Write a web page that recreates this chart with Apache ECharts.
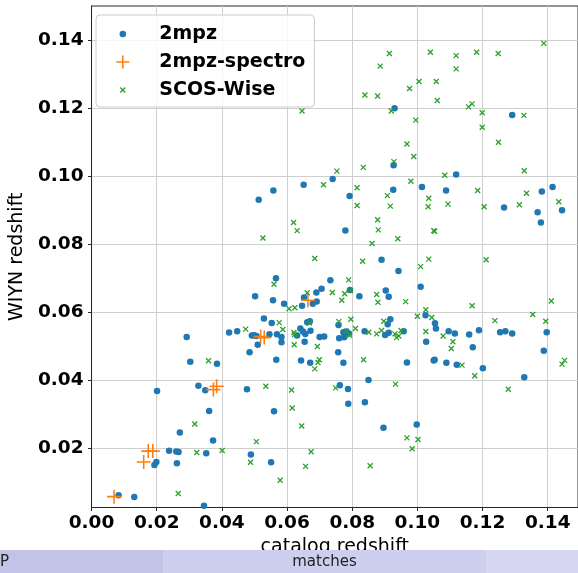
<!DOCTYPE html>
<html>
<head>
<meta charset="utf-8">
<script src="https://cdn.jsdelivr.net/npm/echarts@6/dist/echarts.min.js"></script>
<style>
  html, body { margin: 0; padding: 0; background: #fff; }
  #chart { width: 578px; height: 573px; }
</style>
</head>
<body>
<div id="chart"></div>
<script>
// tick positions
const xTicks = [0, 0.02, 0.04, 0.06, 0.08, 0.10, 0.12, 0.14];
const yTicks = [0.02, 0.04, 0.06, 0.08, 0.10, 0.12, 0.14];

// [catalog redshift, WIYN redshift]
const mpzPoints = [
  [0.0292,0.0527],[0.0422,0.0540],[0.0447,0.0544],[0.0303,0.0454],[0.0385,0.0448],[0.0201,0.0368],
  [0.0328,0.0383],[0.0349,0.0370],[0.0361,0.0309],[0.0271,0.0246],[0.0373,0.0222],[0.0238,0.0192],
  [0.0260,0.0190],[0.0267,0.0188],[0.0352,0.0185],[0.0199,0.0159],[0.0193,0.0150],[0.0262,0.0155],
  [0.0083,0.0061],[0.0131,0.0056],[0.0345,0.0030],
  [0.0890,0.0754],[0.0942,0.0721],[0.0566,0.0700],[0.0733,0.0694],[0.0706,0.0669],[0.0690,0.0658],
  [0.0793,0.0665],[0.0903,0.0664],[0.0912,0.0645],[0.0822,0.0647],[0.0502,0.0647],[0.0557,0.0635],
  [0.0591,0.0625],[0.0652,0.0643],[0.0646,0.0619],[0.0679,0.0625],[0.0691,0.0631],
  [0.0529,0.0581],[0.0553,0.0568],[0.0492,0.0531],[0.0499,0.0532],[0.0506,0.0530],[0.0510,0.0504],
  [0.0546,0.0535],[0.0569,0.0535],[0.0583,0.0527],[0.0583,0.0511],[0.0485,0.0482],[0.0567,0.0460],
  [0.0641,0.0552],[0.0649,0.0543],[0.0656,0.0536],[0.0631,0.0531],[0.0662,0.0570],[0.0670,0.0573],
  [0.0672,0.0545],[0.0654,0.0513],[0.0700,0.0527],[0.0714,0.0528],[0.0643,0.0458],[0.0671,0.0451],
  [0.0758,0.0562],[0.0760,0.0523],[0.0773,0.0541],[0.0782,0.0543],[0.0775,0.0526],[0.0790,0.0537],
  [0.0757,0.0482],[0.0773,0.0451],[0.0838,0.0544],[0.0850,0.0400],
  [0.0917,0.0579],[0.0909,0.0564],[0.0901,0.0533],[0.0912,0.0539],[0.0958,0.0544],
  [0.0477,0.0373],[0.0762,0.0385],[0.0787,0.0374],[0.0788,0.0330],[0.0839,0.0335],[0.0560,0.0308],
  [0.0896,0.0260],[0.0489,0.0181],[0.0551,0.0158],
  [0.0930,0.1200],[0.0927,0.1032],[0.0740,0.0992],[0.0651,0.0975],[0.0558,0.0958],[0.0513,0.0931],
  [0.0792,0.0942],[0.0926,0.0960],[0.0779,0.0840],
  [0.1291,0.1180],[0.1119,0.1005],[0.1014,0.0968],[0.1088,0.0958],[0.1415,0.0968],[0.1382,0.0955],
  [0.1266,0.0908],[0.1369,0.0894],[0.1444,0.0900],[0.1379,0.0864],
  [0.1010,0.0675],[0.1025,0.0591],[0.1054,0.0567],[0.1057,0.0552],[0.1096,0.0544],[0.1115,0.0537],
  [0.1027,0.0513],[0.1159,0.0534],[0.1189,0.0547],[0.1170,0.0497],[0.0968,0.0452],[0.1050,0.0458],
  [0.1053,0.0460],[0.1089,0.0451],[0.1121,0.0445],[0.1201,0.0435],[0.1254,0.0541],[0.1270,0.0544],
  [0.1291,0.0537],[0.1397,0.0541],[0.1388,0.0486],[0.1328,0.0408],[0.0998,0.0269]
];

const spectroPoints = [
  [0.0069,0.0057],[0.0160,0.0159],[0.0174,0.0191],[0.0188,0.0191],[0.0374,0.0372],
  [0.0384,0.0382],[0.0519,0.0528],[0.0530,0.0525],[0.0664,0.0635]
];

const scosPoints = [
  [0.0359,0.0457],[0.0317,0.0271],[0.0323,0.0187],[0.0401,0.0193],[0.0266,0.0066],
  [0.0685,0.0758],[0.0832,0.0750],[0.0560,0.0682],[0.0789,0.0695],[0.0662,0.0657],[0.0739,0.0658],
  [0.0777,0.0654],[0.0795,0.0664],[0.0768,0.0635],[0.0875,0.0652],[0.0879,0.0629],[0.0606,0.0610],
  [0.0624,0.0613],[0.0473,0.0550],[0.0576,0.0569],[0.0587,0.0549],[0.0621,0.0540],[0.0623,0.0534],
  [0.0622,0.0504],[0.0669,0.0568],[0.0693,0.0499],[0.0699,0.0460],[0.0695,0.0452],[0.0685,0.0433],
  [0.0759,0.0572],[0.0796,0.0579],[0.0782,0.0544],[0.0792,0.0532],[0.0810,0.0552],[0.0851,0.0541],
  [0.0835,0.0460],[0.0875,0.0536],[0.0890,0.0546],[0.0897,0.0573],[0.0931,0.0536],[0.0936,0.0525],
  [0.0943,0.0530],[0.0950,0.0546],[0.0535,0.0382],[0.0614,0.0371],[0.0616,0.0318],[0.0645,0.0265],
  [0.0749,0.0377],[0.0933,0.0388],[0.0506,0.0219],[0.0488,0.0158],[0.0674,0.0189],[0.0657,0.0146],
  [0.0579,0.0105],[0.0855,0.0148],
  [0.0914,0.1361],[0.0886,0.1324],[0.0839,0.1239],[0.0878,0.1236],[0.0646,0.1192],[0.0920,0.1192],
  [0.0928,0.1043],[0.0834,0.1026],[0.0753,0.1015],[0.0712,0.0975],[0.0815,0.0966],[0.0908,0.0943],
  [0.0815,0.0914],[0.0917,0.0912],[0.0620,0.0864],[0.0631,0.0840],[0.0878,0.0872],[0.0880,0.0842],
  [0.0940,0.0816],[0.0861,0.0802],[0.0526,0.0818],
  [0.1388,0.1391],[0.1040,0.1365],[0.1119,0.1355],[0.1182,0.1365],[0.1248,0.1361],[0.1119,0.1316],
  [0.1005,0.1279],[0.1058,0.1279],[0.0976,0.1258],[0.1061,0.1223],[0.1157,0.1204],[0.1168,0.1213],
  [0.1199,0.1187],[0.0995,0.1165],[0.1199,0.1144],[0.1327,0.1179],[0.0968,0.1095],[0.0989,0.1058],
  [0.1249,0.1100],[0.1328,0.1016],[0.0980,0.0985],[0.1084,0.1003],[0.1185,0.0958],[0.1035,0.0935],
  [0.1033,0.0910],[0.1094,0.0918],[0.1205,0.0910],[0.1313,0.0916],[0.1335,0.0950],[0.1434,0.0925],
  [0.1050,0.0840],[0.1053,0.0838],
  [0.1035,0.0756],[0.1211,0.0754],[0.1010,0.0734],[0.0964,0.0631],[0.1026,0.0607],[0.1000,0.0588],
  [0.1044,0.0584],[0.1168,0.0619],[0.1238,0.0575],[0.1354,0.0593],[0.1394,0.0573],[0.1411,0.0633],
  [0.1026,0.0543],[0.1079,0.0530],[0.1109,0.0513],[0.1104,0.0493],[0.1137,0.0444],[0.1176,0.0413],
  [0.1279,0.0373],[0.1444,0.0447],[0.1452,0.0458],[0.0968,0.0230],[0.1002,0.0225],[0.0984,0.0198]
];

const BLUE = '#1f77b4', ORANGE = '#ff7f0e', GREEN = '#2ca02c';
const FONT = 'DejaVu Sans';

const PLUS = 'path://M0,-1L0,1M-1,0L1,0';
const CROSS = 'path://M-1,-1L1,1M-1,1L1,-1';
// legend icons: extra move-to points pad the box so the mark sits on the left
const PAD = 'M-1,-1M4.846,1';
const LEG_DOT = 'path://' + PAD + 'M0.5,0A0.5,0.5,0,1,1,-0.5,0A0.5,0.5,0,1,1,0.5,0Z';
const LEG_PLUS = 'path://' + PAD + 'M0,-1L0,1M-1,0L1,0';
const LEG_CROSS = 'path://' + PAD + 'M-0.38,-0.38L0.38,0.38M-0.38,0.38L0.38,-0.38';

const chart = echarts.init(document.getElementById('chart'), null, { renderer: 'canvas' });

const tickLabel = {
  fontFamily: FONT, fontWeight: 'bold', fontSize: 18.5, color: '#000',
  formatter: v => (+v).toFixed(2)
};

chart.setOption({
  animation: false,
  backgroundColor: '#fff',
  grid: {
    left: 86, top: 6, right: 0, bottom: 65.5,
    show: true, borderColor: '#262626', borderWidth: 1, backgroundColor: 'transparent'
  },
  xAxis: {
    type: 'value', min: 0, max: 0.1493,
    name: 'catalog redshift', nameLocation: 'middle', nameGap: 27,
    nameTextStyle: { fontFamily: FONT, fontSize: 19, color: '#000' },
    axisLine: { show: true, lineStyle: { color: '#262626', width: 1 } },
    axisTick: { show: true, length: 3.5, customValues: xTicks, lineStyle: { color: '#262626' } },
    axisLabel: Object.assign({ margin: 6, customValues: xTicks }, tickLabel),
    splitLine: { show: true, lineStyle: { color: '#cfcfcf', width: 1 } }
  },
  yAxis: {
    type: 'value', min: 0.0025, max: 0.1501,
    name: 'WIYN redshift', nameLocation: 'middle', nameGap: 55,
    nameTextStyle: { fontFamily: FONT, fontSize: 19, color: '#000' },
    axisLine: { show: true, lineStyle: { color: '#262626', width: 1 } },
    axisTick: { show: true, length: 3.5, customValues: yTicks, lineStyle: { color: '#262626' } },
    axisLabel: Object.assign({ margin: 8, customValues: yTicks }, tickLabel),
    splitLine: { show: true, lineStyle: { color: '#cfcfcf', width: 1 } }
  },
  legend: {
    orient: 'vertical', left: 96, top: 15,
    padding: [9, 9, 7, 19.5],
    itemWidth: 38, itemHeight: 13, itemGap: 8,
    backgroundColor: 'rgba(255,255,255,0.8)',
    borderColor: '#cccccc', borderWidth: 1, borderRadius: 4,
    textStyle: { fontFamily: FONT, fontWeight: 'bold', fontSize: 19, color: '#000', lineHeight: 20 },
    selectedMode: false,
    data: [
      { name: '2mpz', icon: LEG_DOT, itemStyle: { color: BLUE, borderWidth: 0 } },
      { name: '2mpz-spectro', icon: LEG_PLUS, itemStyle: { color: 'transparent', borderColor: ORANGE, borderWidth: 1.6 } },
      { name: 'SCOS-Wise', icon: LEG_CROSS, itemStyle: { color: 'transparent', borderColor: GREEN, borderWidth: 1.3 } }
    ]
  },
  graphic: [
    { type: 'rect', z: 100, shape: { x: 0, y: 550, width: 163, height: 23 }, style: { fill: '#c3c3e8' } },
    { type: 'rect', z: 100, shape: { x: 163, y: 550, width: 323, height: 23 }, style: { fill: '#cecfee' } },
    { type: 'rect', z: 100, shape: { x: 486, y: 550, width: 92, height: 23 }, style: { fill: '#d7d7f3' } },
    { type: 'text', z: 101, x: 0, y: 562, style: { text: 'P', font: '15px "DejaVu Sans"', fill: '#222', verticalAlign: 'middle' } },
    { type: 'text', z: 101, x: 324.5, y: 562, style: { text: 'matches', font: '15px "DejaVu Sans"', fill: '#222', align: 'center', verticalAlign: 'middle' } }
  ],
  series: [
    {
      name: '2mpz', type: 'scatter', data: mpzPoints,
      symbol: 'circle', symbolSize: 6.5,
      itemStyle: { color: BLUE, opacity: 1 },
      emphasis: { disabled: true }, silent: true
    },
    {
      name: '2mpz-spectro', type: 'scatter', data: spectroPoints,
      symbol: PLUS, symbolSize: 14,
      itemStyle: { color: 'transparent', borderColor: ORANGE, borderWidth: 1.6, opacity: 1 },
      emphasis: { disabled: true }, silent: true
    },
    {
      name: 'SCOS-Wise', type: 'scatter', data: scosPoints,
      symbol: CROSS, symbolSize: 5,
      itemStyle: { color: 'transparent', borderColor: GREEN, borderWidth: 1.3, opacity: 1 },
      emphasis: { disabled: true }, silent: true
    }
  ]
});
</script>
</body>
</html>
